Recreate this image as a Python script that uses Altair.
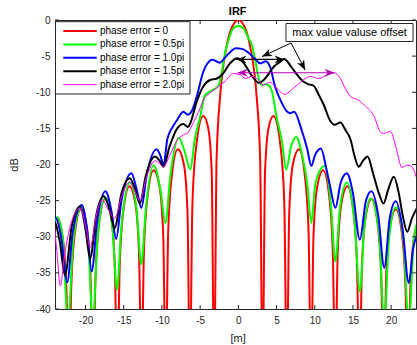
import math
import altair as alt
import pandas as pd

# ---------------- data ----------------
series = ["phase error = 0", "phase error = 0.5pi", "phase error = 1.0pi",
          "phase error = 1.5pi", "phase error = 2.0pi"]

red_x = [-24.57, -23.78, -22.98, -22.51, -22.19,
         -21.87, -21.40, -20.61, -19.81, -19.34, -19.02,
         -18.70, -18.23, -17.44, -16.64, -16.17, -15.85,
         -15.53, -15.06, -14.27, -13.47, -13.00, -12.68,
         -12.36, -11.89, -11.10, -10.30, -9.83, -9.51,
         -9.19, -8.72, -7.93, -7.13, -6.66, -6.34,
         -6.02, -5.55, -4.60, -3.96, -3.49, -3.17,
         -2.85, -2.38, -1.59, -0.79, 0.0, 0.79, 1.59, 2.38, 2.85,
         3.17, 3.49, 3.96, 4.60, 5.55, 6.02,
         6.34, 6.66, 7.13, 7.93, 8.72, 9.19,
         9.51, 9.83, 10.30, 11.10, 11.89, 12.36,
         12.68, 13.00, 13.47, 14.27, 15.06, 15.53,
         15.85, 16.17, 16.64, 17.44, 18.23, 18.70,
         19.02, 19.34, 19.81, 20.61, 21.40, 21.87,
         22.19, 22.51, 22.98, 23.78]
red_y = [-30.7, -27.4, -30.2, -37.2, -50,
         -36.9, -29.5, -26.2, -28.9, -35.9, -50,
         -35.6, -28.2, -24.75, -27.4, -34.3, -50,
         -34.0, -26.5, -23.0, -25.5, -32.4, -50,
         -32.0, -24.4, -20.8, -23.2, -30.0, -50,
         -29.4, -21.7, -17.9, -20.0, -26.6, -50,
         -25.7, -17.8, -13.3, -14.9, -21.0, -50,
         -19.2, -10.45, -3.9, -0.9, 0.0, -0.9, -3.9, -10.45, -19.2,
         -50, -21.0, -14.9, -13.3, -17.8, -25.7,
         -50, -26.6, -20.0, -17.9, -21.7, -29.4,
         -50, -30.0, -23.2, -20.8, -24.4, -32.0,
         -50, -32.4, -25.5, -23.0, -26.5, -34.0,
         -50, -34.3, -27.4, -24.75, -28.2, -35.6,
         -50, -35.9, -28.9, -26.2, -29.5, -36.9,
         -50, -37.2, -30.2, -27.4]

green_x = [-24.5, -23.7, -23.0, -22.3, -21.6, -20.55, -19.7, -19.05, -18.4, -17.4,
           -16.5, -15.9, -15.3, -14.2, -13.3, -12.7, -12.1, -11.1, -10.2, -9.55,
           -8.9, -7.8, -7.0, -6.3, -5.7, -5.0, -4.4, -3.7, -3.2, -2.6,
           -2.2, -1.75, -1.3, -0.7, 0.0, 0.7, 1.3, 1.75, 2.2, 2.6,
           3.05, 3.5, 3.9, 4.4, 5.0, 5.7, 6.26, 6.9, 7.57, 8.4,
           9.0, 9.55, 10.1, 11.3, 12.1, 12.7, 13.3, 14.2, 15.2, 15.9,
           16.5, 17.3, 18.4, 19.1, 19.7, 20.6, 21.6, 22.3, 23.0, 23.7]
green_y = [-30, -27.3, -30, -42, -30.5, -25.9, -30, -42, -29.8, -24.6,
           -28.5, -37.3, -28.5, -22.5, -26.5, -33.8, -26, -20.1, -23.5, -28.1,
           -21.5, -16.3, -18.3, -20.7, -16.5, -13.4, -10.5, -9.9, -9.6, -9.1,
           -7.4, -4.6, -2.8, -1.2, -0.8, -1.2, -2.5, -3.4, -5.5, -7.8,
           -9.0, -8.9, -9.0, -9.9, -13.4, -16.8, -20.7, -17.5, -16.2, -19.0,
           -22.5, -28.1, -22.5, -20.2, -25.5, -33.4, -26.0, -22.5, -28.0, -37.6,
           -28.5, -24.7, -29.5, -42, -30.5, -25.9, -30.5, -42, -30.0, -27.3]

blue_x = [-24.6, -24.0, -23.2, -22.4, -21.7, -20.5, -19.8, -19.2, -18.5, -17.4,
          -16.6, -16.0, -15.3, -14.0, -13.3, -12.7, -12.0, -10.7, -10.2, -9.8,
          -9.3, -8.6, -8.0, -7.2, -6.6, -6.1, -5.45, -4.6, -4.1, -3.4,
          -2.45, -1.5, -0.3, 0.5, 1.3, 2.2, 2.85, 3.6, 4.15, 4.8,
          5.7, 6.3, 6.8, 7.3, 8.3, 9.0, 9.55, 10.0, 10.8, 11.5,
          12.0, 12.7, 13.4, 14.2, 15.0, 15.9, 16.7, 17.4, 18.3, 19.1,
          19.8, 20.6, 21.5, 22.3, 22.9, 23.5]
blue_y = [-29.5, -27.3, -30.0, -36.3, -29.5, -25.6, -29.0, -34.8, -28.0, -23.7,
          -26.5, -30.3, -25.0, -21.2, -23.5, -26.0, -21.5, -17.9, -18.8, -20.1,
          -16.5, -14.8, -13.8, -12.7, -13.1, -12.6, -10.6, -7.2, -6.1, -5.5,
          -5.9, -4.9, -3.9, -4.0, -4.5, -5.4, -6.0, -5.7, -6.5, -9.2,
          -11.5, -12.6, -12.9, -12.7, -15.3, -17.8, -20.2, -18.8, -17.8, -20.5,
          -23.0, -26.0, -22.5, -21.2, -24.0, -30.4, -25.0, -23.7, -27.0, -34.3,
          -27.5, -25.1, -29.0, -36.4, -31.5, -29.5]

black_x = [-24.6, -24.2, -23.4, -22.7, -21.8, -20.7, -20.0, -19.4, -18.6, -17.6,
           -16.8, -16.2, -15.3, -14.2, -13.5, -12.9, -12.1, -10.9, -10.3, -9.8,
           -9.0, -8.0, -7.2, -6.6, -6.3, -5.45, -4.6, -3.7, -2.8, -2.0,
           -1.1, -0.1, 0.8, 1.75, 2.7, 3.5, 4.6, 5.45, 6.0, 6.8,
           7.7, 8.5, 9.2, 9.85, 10.5, 11.2, 12.0, 12.6, 13.35, 14.0,
           14.7, 15.2, 15.75, 16.3, 16.9, 17.7, 18.4, 19.0, 19.6, 20.35,
           21.0, 21.5, 22.1, 22.7, 23.4]
black_y = [-30.0, -27.7, -30.5, -35.3, -28.5, -25.8, -29.0, -33.0, -27.0, -24.4,
           -26.5, -28.8, -24.0, -21.9, -23.5, -25.4, -21.5, -18.9, -19.5, -20.3,
           -17.5, -15.0, -14.4, -14.8, -14.3, -11.3, -9.2, -8.3, -8.1, -7.4,
           -6.0, -5.3, -6.1, -7.7, -8.7, -8.1, -6.5, -5.8, -5.4, -6.3,
           -7.6, -8.5, -8.9, -9.1, -10.3, -11.8, -13.9, -14.5, -14.2, -15.2,
           -16.6, -18.8, -20.3, -19.5, -18.9, -21.5, -24.0, -25.4, -23.5, -21.7,
           -24.0, -27.0, -29.3, -27.5, -26.0]

mag_x = [-24.6, -24.2, -23.8, -23.3, -22.8, -22.0, -20.7, -20.0, -19.4, -18.7,
         -17.8, -17.0, -16.2, -15.3, -14.2, -13.5, -12.9, -12.0, -10.9, -10.3,
         -9.8, -9.0, -8.0, -7.2, -6.6, -5.9, -5.0, -4.6, -3.7, -2.6,
         -1.75, -0.65, 0.3, 0.9, 1.75, 2.5, 3.3, 4.1, 4.8, 5.45,
         6.1, 6.8, 7.7, 8.5, 9.4, 10.5, 11.4, 12.5, 13.3, 14.0,
         14.7, 15.75, 16.5, 17.7, 18.6, 19.0, 19.9, 20.6, 21.4, 22.1,
         22.6, 23.4]
mag_y = [-31.0, -28.3, -31.5, -36.8, -33.0, -28.5, -26.0, -28.5, -31.5, -27.5,
         -24.9, -26.3, -27.5, -24.5, -22.4, -23.8, -25.0, -21.7, -19.5, -19.9,
         -20.3, -18.8, -16.6, -15.9, -15.6, -14.2, -12.2, -11.1, -10.1, -9.2,
         -8.5, -7.4, -7.6, -8.1, -7.8, -8.2, -9.0, -8.6, -9.2, -9.9,
         -10.3, -9.8, -9.0, -8.3, -7.8, -8.1, -7.7, -7.3, -8.0, -9.5,
         -10.6, -11.1, -11.8, -13.2, -15.5, -15.7, -15.4, -17.5, -20.4, -20.1,
         -20.2, -22.1]

x_ticks = [-20, -15, -10, -5, 0, 5, 10, 15, 20]
y_ticks = [0, -5, -10, -15, -20, -25, -30, -35, -40]

# annotation anchors (data coordinates)
black_arrow_x = [-0.25, 6.05]
black_arrow_y = -5.45
mag_arrow_x = [-0.1, 12.6]
mag_arrow_y = -7.3
note_origin = [6.9, -3.18]
note_tips_x = [3.1, 8.74]
note_tips_y = [-5.05, -6.92]
note_text = "max value valuse offset"
title_text = "IRF"

# ---------------- styling ----------------
colors = ["#ff0000", "#00ff00", "#0000ff", "#000000", "#ff00ff"]
widths = [2, 2, 2, 2, 1]
MAGA = "#b400b4"
W, H = 361, 289
XDOM = [-24.0, 23.25]
YDOM = [-40.0, 0.0]
FONT = "Liberation Sans"
AXC = "#262626"
ARROW = "M0,0 L-2,-0.8 L-1.4,0 L-2,0.8 Z"
PX = W / (XDOM[1] - XDOM[0])
PY = H / (YDOM[1] - YDOM[0])

xs = alt.Scale(domain=XDOM, nice=False, zero=False)
ys = alt.Scale(domain=YDOM, nice=False, zero=False)
one = pd.DataFrame({"a": [0]})

xaxis = alt.Axis(values=x_ticks, tickSize=0, domain=False, grid=False, labelPadding=6,
                 labelFontSize=10, labelFont=FONT, labelColor=AXC, labelFlush=False,
                 labelExpr="toString(datum.value)", title="[m]", titleFont=FONT,
                 titleFontSize=11, titleFontWeight="normal", titleColor=AXC,
                 titleX=182.7, titleY=29, titleBaseline="middle", titleAlign="center")
yaxis = alt.Axis(values=y_ticks, tickSize=0, domain=False, grid=False, labelPadding=5,
                 labelFontSize=10, labelFont=FONT, labelColor=AXC, labelFlush=False,
                 labelExpr="toString(datum.value)", title="dB", titleFont=FONT,
                 titleFontSize=11, titleFontWeight="normal", titleColor=AXC,
                 titleAngle=270, titleX=-41, titleY=144.5, titleBaseline="middle",
                 titleAlign="center")


def X(field):
    return alt.X(field, scale=xs, axis=xaxis)


def Y(field):
    return alt.Y(field, scale=ys, axis=yaxis)


layers = []
curves = [(red_x, red_y), (green_x, green_y), (blue_x, blue_y),
          (black_x, black_y), (mag_x, mag_y)]
for (cx, cy), col, w in zip(curves, colors, widths):
    df = pd.DataFrame({"x": cx, "y": cy})
    layers.append(
        alt.Chart(df).mark_line(color=col, strokeWidth=w, clip=True, interpolate="monotone")
        .encode(x=X("x:Q"), y=Y("y:Q"))
    )

# inward tick marks on all four sides
xt = pd.DataFrame({"t": x_ticks})
yt = pd.DataFrame({"t": y_ticks})
for y0, y1 in [(H, H - 4), (0, 4)]:
    layers.append(alt.Chart(xt).mark_rule(color=AXC, strokeWidth=1).encode(
        x=X("t:Q"), y=alt.value(y0), y2=alt.value(y1)))
for x0, x1 in [(0, 4), (W, W - 4)]:
    layers.append(alt.Chart(yt).mark_rule(color=AXC, strokeWidth=1).encode(
        y=Y("t:Q"), x=alt.value(x0), x2=alt.value(x1)))

# double arrows
for ax, ay, col in [(black_arrow_x, black_arrow_y, "#000000"), (mag_arrow_x, mag_arrow_y, MAGA)]:
    d = pd.DataFrame({"x1": [ax[0]], "x2": [ax[1]], "y": [ay]})
    layers.append(alt.Chart(d).mark_rule(color=col, strokeWidth=1.2).encode(
        x=X("x1:Q"), x2="x2:Q", y=Y("y:Q")))
    for xv, ang in [(ax[0], 180), (ax[1], 0)]:
        h = pd.DataFrame({"x": [xv], "y": [ay]})
        layers.append(alt.Chart(h).mark_point(shape=ARROW, filled=True, size=100, opacity=1,
                                              strokeWidth=0, color=col, angle=ang).encode(
            x=X("x:Q"), y=Y("y:Q")))

# leader arrows from the note box
for tx, ty in zip(note_tips_x, note_tips_y):
    d = pd.DataFrame({"x1": [note_origin[0]], "y1": [note_origin[1]], "x2": [tx], "y2": [ty]})
    layers.append(alt.Chart(d).mark_rule(color="#000000", strokeWidth=1).encode(
        x=X("x1:Q"), y=Y("y1:Q"), x2="x2:Q", y2="y2:Q"))
    ang = math.degrees(math.atan2(-(ty - note_origin[1]) * PY, (tx - note_origin[0]) * PX)) % 360
    h = pd.DataFrame({"x": [tx], "y": [ty]})
    layers.append(alt.Chart(h).mark_point(shape=ARROW, filled=True, size=100, opacity=1,
                                          strokeWidth=0, color="#000000", angle=ang).encode(
        x=X("x:Q"), y=Y("y:Q")))

# note box
layers.append(alt.Chart(one).mark_rect(fill="white", stroke=AXC, strokeWidth=1).encode(
    x=alt.value(231), x2=alt.value(358), y=alt.value(3.5), y2=alt.value(21.5)))
layers.append(alt.Chart(pd.DataFrame({"t": [note_text]})).mark_text(
    font=FONT, fontSize=11, color="#000000", align="center", baseline="middle").encode(
    x=alt.value(294.5), y=alt.value(12.8), text="t:N"))

# legend
layers.append(alt.Chart(one).mark_rect(fill="white", stroke=AXC, strokeWidth=1).encode(
    x=alt.value(0.5), x2=alt.value(135), y=alt.value(1.7), y2=alt.value(74)))
for i, (lab, col, w) in enumerate(zip(series, colors, widths)):
    yy = 11 + 13.4 * i
    layers.append(alt.Chart(one).mark_rule(color=col, strokeWidth=w).encode(
        x=alt.value(8.3), x2=alt.value(41.7), y=alt.value(yy)))
    layers.append(alt.Chart(pd.DataFrame({"t": [lab]})).mark_text(
        font=FONT, fontSize=10, color="#000000", align="left", baseline="middle").encode(
        x=alt.value(45), y=alt.value(yy), text="t:N"))

# title
layers.append(alt.Chart(pd.DataFrame({"t": [title_text]})).mark_text(
    font=FONT, fontSize=11, fontWeight="bold", color="#000000", align="center",
    baseline="alphabetic").encode(x=alt.value(182.7), y=alt.value(-5), text="t:N"))

chart = alt.layer(*layers).properties(
    width=W, height=H,
    autosize=alt.AutoSizeParams(type="none"),
    padding={"left": 55, "top": 20, "right": 1, "bottom": 36},
    background="white",
).configure_view(stroke=AXC, strokeWidth=1)

chart.save("out.html", embed_options={"renderer": "svg", "actions": False})
